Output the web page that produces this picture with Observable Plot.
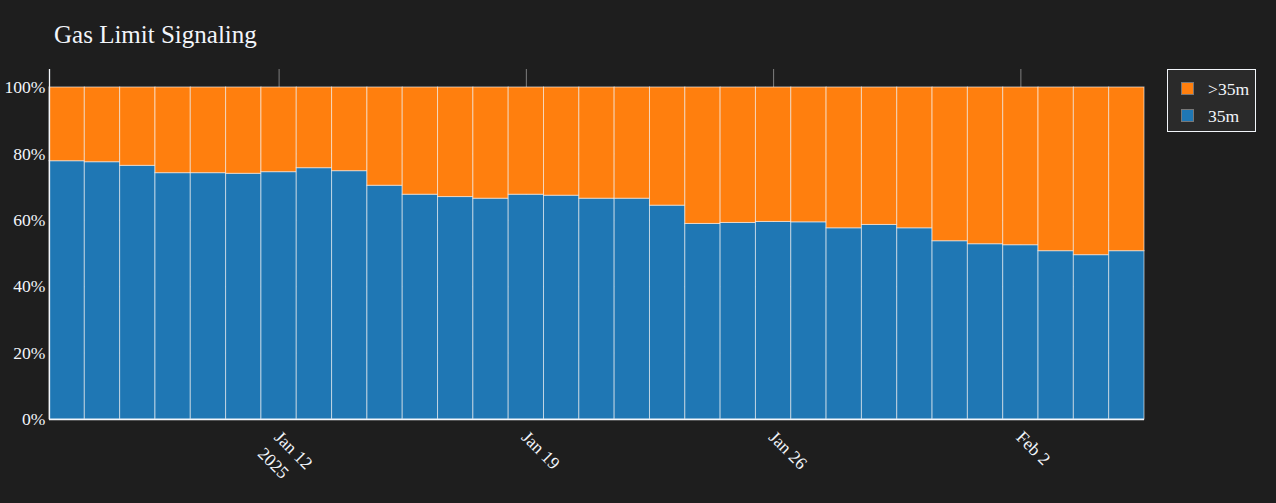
<!DOCTYPE html>
<html>
<head>
<meta charset="utf-8">
<script src="https://cdn.jsdelivr.net/npm/d3@7"></script>
<script src="https://cdn.jsdelivr.net/npm/@observablehq/plot@0.6"></script>
<style>
  html, body { margin: 0; padding: 0; background: #1e1e1e; }
  #wrap { position: relative; width: 1276px; height: 503px; overflow: hidden; font-family: "Liberation Serif", "Times New Roman", serif; color: #f2f5fa; }
  #title { position: absolute; left: 54px; top: 22px; font-size: 25px; line-height: 25px; white-space: nowrap; }
  #legend { position: absolute; left: 1167px; top: 69px; width: 89px; height: 63px; box-sizing: border-box; border: 1.3px solid #f2f5fa; background: #2a2a2a; }
  .li { position: absolute; left: 13px; height: 20px; font-size: 17.6px; line-height: 20px; white-space: nowrap; }
  .sw { position: absolute; left: 0; top: 3px; width: 13px; height: 13px; box-sizing: border-box; border: 1.3px solid #777; }
  .lt { position: absolute; left: 27px; top: 0; }
  #chart { position: absolute; left: 0; top: 0; }
</style>
</head>
<body>
<div id="wrap">
  <div id="title"></div>
  <div id="legend"></div>
  <div id="chart"></div>
</div>
<script>
// ---- data ----
const titleText = "Gas Limit Signaling";
const dates = [
  "2025-01-06","2025-01-07","2025-01-08","2025-01-09","2025-01-10","2025-01-11","2025-01-12",
  "2025-01-13","2025-01-14","2025-01-15","2025-01-16","2025-01-17","2025-01-18","2025-01-19",
  "2025-01-20","2025-01-21","2025-01-22","2025-01-23","2025-01-24","2025-01-25","2025-01-26",
  "2025-01-27","2025-01-28","2025-01-29","2025-01-30","2025-01-31","2025-02-01","2025-02-02",
  "2025-02-03","2025-02-04","2025-02-05"
];
// share of blocks signaling 35m (percent)
const share35m = [
  77.8, 77.5, 76.4, 74.2, 74.2, 74.0, 74.5,
  75.7, 74.8, 70.4, 67.7, 67.0, 66.5, 67.7,
  67.4, 66.5, 66.5, 64.4, 58.9, 59.2, 59.5,
  59.4, 57.6, 58.6, 57.6, 53.7, 52.8, 52.5,
  50.7, 49.5, 50.7
];
// share of blocks signaling >35m (percent)
const shareAbove35m = [
  22.2, 22.5, 23.6, 25.8, 25.8, 26.0, 25.5,
  24.3, 25.2, 29.6, 32.3, 33.0, 33.5, 32.3,
  32.6, 33.5, 33.5, 35.6, 41.1, 40.8, 40.5,
  40.6, 42.4, 41.4, 42.4, 46.3, 47.2, 47.5,
  49.3, 50.5, 49.3
];
const seriesNames = ["35m", ">35m"];
const seriesColors = ["#1f77b4", "#ff7f0e"];
const legendOrder = [">35m", "35m"];
const xTickDates = ["2025-01-12", "2025-01-19", "2025-01-26", "2025-02-02"];
const xTickLabels = ["Jan 12\n2025", "Jan 19", "Jan 26", "Feb 2"];
const yTicks = [0, 20, 40, 60, 80, 100];
const yTickLabels = ["0%", "20%", "40%", "60%", "80%", "100%"];

// ---- build table ----
const HALF_DAY = 12 * 3600 * 1000;
const rows = [];
dates.forEach((ds, i) => {
  const d = new Date(ds + "T00:00:00Z");
  const vals = [share35m[i], shareAbove35m[i]];
  let acc = 0;
  seriesNames.forEach((s, j) => {
    rows.push({date: d, series: s, y1: acc, y2: acc + vals[j]});
    acc += vals[j];
  });
});
const tickRows = xTickDates.map((ds, i) => ({date: new Date(ds + "T00:00:00Z"), label: xTickLabels[i]}));
const xDomain = [new Date(+new Date(dates[0] + "T00:00:00Z") - HALF_DAY), new Date(+new Date(dates[dates.length - 1] + "T00:00:00Z") + HALF_DAY)];

const textColor = "#f2f5fa";
const chart = Plot.plot({
  width: 1276,
  height: 503,
  marginLeft: 49,
  marginRight: 132,
  marginTop: 69,
  marginBottom: 84,
  style: {background: "transparent", color: textColor, fontFamily: '"Liberation Serif", "Times New Roman", serif', fontSize: "17.6px"},
  x: {type: "utc", domain: xDomain, axis: null},
  y: {domain: [0, 105.42], ticks: yTicks, tickFormat: (d) => yTickLabels[yTicks.indexOf(d)], tickSize: 0, tickPadding: 4, label: null},
  color: {domain: seriesNames, range: seriesColors},
  marks: [
    Plot.gridX(tickRows.map(d => d.date), {stroke: "#7f7f7f", strokeOpacity: 1, strokeWidth: 1}),
    Plot.gridY(yTicks, {stroke: "#7f7f7f", strokeOpacity: 1, strokeWidth: 1}),
    Plot.rect(rows, {
      x1: d => new Date(+d.date - HALF_DAY),
      x2: d => new Date(+d.date + HALF_DAY),
      y1: "y1", y2: "y2",
      fill: "series",
      stroke: "white", strokeOpacity: 0.6, strokeWidth: 1
    }),
    Plot.text(tickRows, {
      x: "date", text: "label", frameAnchor: "bottom",
      rotate: 45, textAnchor: "start", lineAnchor: "top", lineHeight: 1.33,
      dx: 6, dy: 7, fill: textColor, fontSize: 17.6
    }),
    Plot.ruleX([xDomain[0]], {stroke: textColor, strokeWidth: 1.3}),
    Plot.ruleY([0], {stroke: textColor, strokeWidth: 1.3})
  ]
});
document.getElementById("chart").appendChild(chart);

document.getElementById("title").textContent = titleText;
const legend = document.getElementById("legend");
legendOrder.forEach((name, k) => {
  const item = document.createElement("div");
  item.className = "li";
  item.style.top = (9 + k * 27) + "px";
  const sw = document.createElement("div");
  sw.className = "sw";
  sw.style.background = seriesColors[seriesNames.indexOf(name)];
  const t = document.createElement("div");
  t.className = "lt";
  t.textContent = name;
  item.appendChild(sw);
  item.appendChild(t);
  legend.appendChild(item);
});
</script>
</body>
</html>
